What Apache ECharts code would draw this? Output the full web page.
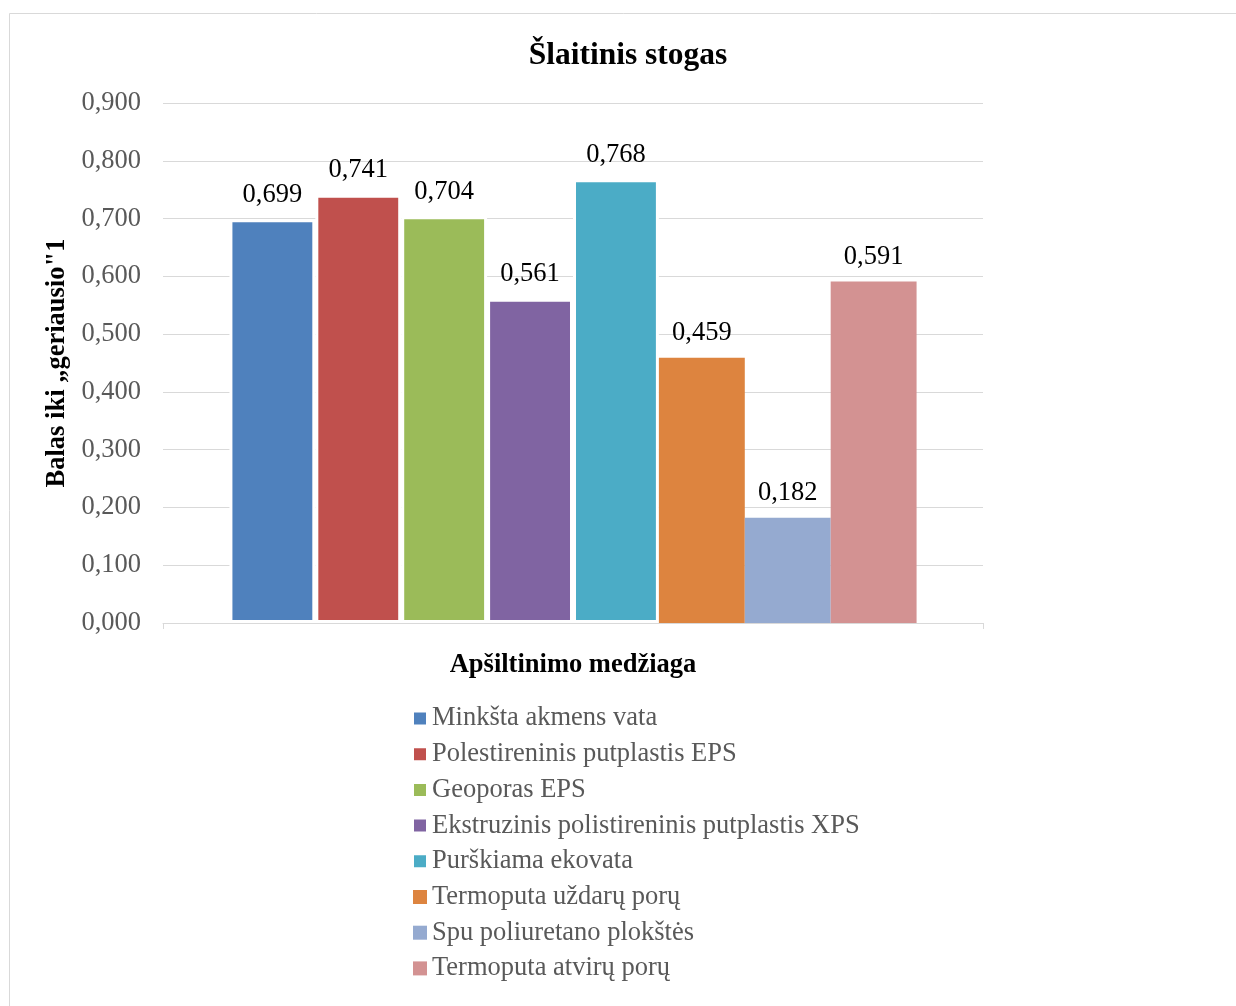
<!DOCTYPE html>
<html>
<head>
<meta charset="utf-8">
<script src="https://cdn.jsdelivr.net/npm/echarts@6/dist/echarts.min.js"></script>
<style>
  html, body { margin: 0; padding: 0; background: #fff; }
  #chart { width: 1236px; height: 1006px; }
</style>
</head>
<body>
<div id="chart"></div>
<script>
// Insulation materials and their scores for the pitched roof
const materials = [
  'Minkšta akmens vata',
  'Polestireninis putplastis EPS',
  'Geoporas EPS',
  'Ekstruzinis polistireninis putplastis XPS',
  'Purškiama ekovata',
  'Termoputa uždarų porų',
  'Spu poliuretano plokštės',
  'Termoputa atvirų porų'
];
const scores = [0.699, 0.741, 0.704, 0.561, 0.768, 0.459, 0.182, 0.591];
const colors = ['#4f81bd', '#c0504d', '#9bbb59', '#8064a2', '#4bacc6', '#dd843f', '#95aad0', '#d39292'];
// the first five bars are outlined in white
const outlined = [true, true, true, true, true, false, false, false];

const serif = '"Liberation Serif", "Times New Roman", serif';
const fmt = v => v.toFixed(3).replace('.', ',');

const series = materials.map((name, i) => ({
  name: name,
  type: 'bar',
  data: [scores[i]],
  barGap: '0%',
  barCategoryGap: '16.2%',
  itemStyle: {
    color: colors[i],
    borderColor: outlined[i] ? '#ffffff' : colors[i],
    borderWidth: outlined[i] ? 3 : 0
  },
  label: {
    show: true,
    position: 'top',
    distance: 11,
    formatter: p => fmt(p.value),
    fontFamily: serif,
    fontSize: 26.5,
    color: '#000'
  }
}));

const chart = echarts.init(document.getElementById('chart'), null, { renderer: 'canvas' });
chart.setOption({
  animation: false,
  backgroundColor: '#fff',
  graphic: [{
    type: 'rect',
    shape: { x: 9.5, y: 13.5, width: 1300, height: 1100 },
    style: { fill: 'none', stroke: '#d9d9d9', lineWidth: 1 },
    silent: true,
    z: -10
  }],
  title: {
    text: 'Šlaitinis stogas',
    left: 623,
    textAlign: 'center',
    top: 35,
    textStyle: { fontFamily: serif, fontSize: 31.5, fontWeight: 'bold', color: '#000' }
  },
  grid: { left: 163, right: 253, top: 103, bottom: 383, containLabel: false },
  legend: {
    orient: 'vertical',
    left: 412,
    top: 705,
    padding: 0,
    itemWidth: 14,
    itemHeight: 14,
    itemGap: 8.7,
    icon: 'rect',
    textStyle: { fontFamily: serif, fontSize: 26.5, color: '#595959', lineHeight: 26, padding: [0, 0, 0, 0] },
    data: materials
  },
  xAxis: {
    type: 'category',
    data: [''],
    name: 'Apšiltinimo medžiaga',
    nameLocation: 'middle',
    nameGap: 29,
    nameTextStyle: { fontFamily: serif, fontSize: 26.5, fontWeight: 'bold', color: '#000' },
    axisLine: { lineStyle: { color: '#d9d9d9', width: 1 } },
    axisTick: { show: true, length: 6, lineStyle: { color: '#d9d9d9' } },
    axisLabel: { show: false }
  },
  yAxis: {
    type: 'value',
    min: 0,
    max: 0.9,
    interval: 0.1,
    name: 'Balas iki „geriausio"1',
    nameLocation: 'middle',
    nameGap: 85,
    nameTextStyle: { fontFamily: serif, fontSize: 26.5, fontWeight: 'bold', color: '#000' },
    axisLine: { show: false },
    axisTick: { show: false },
    axisLabel: {
      formatter: v => fmt(v),
      fontFamily: serif,
      fontSize: 26.5,
      color: '#595959',
      margin: 22
    },
    splitLine: { lineStyle: { color: '#d9d9d9', width: 1 } }
  },
  series: series
});
</script>
</body>
</html>
